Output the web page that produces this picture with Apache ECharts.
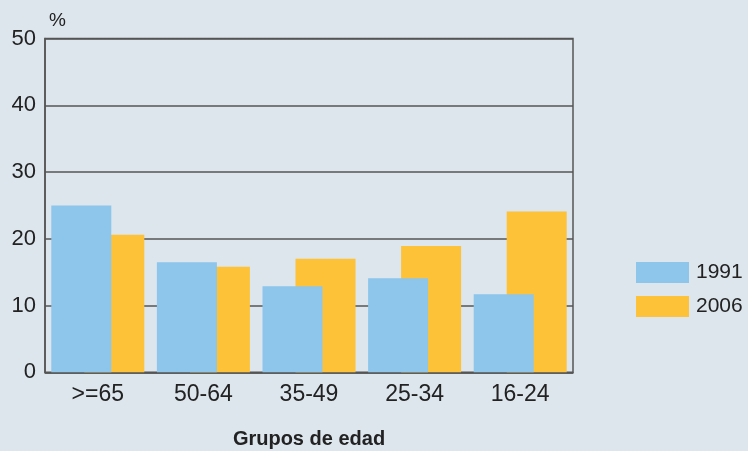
<!DOCTYPE html>
<html>
<head>
<meta charset="utf-8">
<script src="https://cdn.jsdelivr.net/npm/echarts@6/dist/echarts.min.js"></script>
<style>
  html, body { margin: 0; padding: 0; background: #dde5ed; }
  #plot { width: 748px; height: 451px; }
</style>
</head>
<body>
<div id="plot"></div>
<script>
// datos
let categorias = ['>=65', '50-64', '35-49', '25-34', '16-24'];
let serie1991 = [25.0, 16.5, 12.9, 14.1, 11.7];
let serie2006 = [20.6, 15.8, 17.0, 18.9, 24.1];
let ticksY = [0, 10, 20, 30, 40, 50];

let chart = echarts.init(document.getElementById('plot'));

let fuente = 'Liberation Sans, Arial, sans-serif';

let option = {
    backgroundColor: '#dde5ed',
    animation: false,
    grid: {
        left: 45, right: 175, top: 38.5, bottom: 78.7,
        outerBoundsMode: 'none',
        containLabel: false,
        show: true, borderColor: '#555', borderWidth: 1.5,
        backgroundColor: 'transparent'
    },
    legend: {
        orient: 'vertical',
        left: 631, top: 257,
        itemWidth: 53, itemHeight: 21, itemGap: 13,
        icon: 'rect',
        textStyle: { fontFamily: fuente, fontSize: 21, color: '#222', padding: [0, 0, 0, 2] },
        data: ['1991', '2006']
    },
    xAxis: {
        type: 'category',
        data: categorias,
        axisLine: { lineStyle: { color: '#555', width: 1.5 } },
        axisTick: { show: false },
        axisLabel: { fontFamily: fuente, fontSize: 23, color: '#222', margin: 11 },
        name: 'Grupos de edad',
        nameLocation: 'middle',
        nameGap: 57,
        nameTextStyle: { fontFamily: fuente, fontSize: 20, fontWeight: 'bold', color: '#222' }
    },
    yAxis: {
        type: 'value',
        min: ticksY[0], max: ticksY[ticksY.length - 1], interval: 10,
        axisLine: { show: true, lineStyle: { color: '#555', width: 1.5 } },
        axisTick: { show: false },
        splitLine: { lineStyle: { color: '#555', width: 1.5 } },
        axisLabel: { fontFamily: fuente, fontSize: 22, color: '#222', margin: 9 },
        name: '%',
        nameLocation: 'end',
        nameGap: 8,
        nameTextStyle: { fontFamily: fuente, fontSize: 19, color: '#222', align: 'left', padding: [0, 0, 0, 4] }
    },
    series: [
        {
            name: '1991', type: 'bar', data: serie1991,
            barWidth: 60, barGap: '-45%', z: 3,
            itemStyle: { color: '#8dc5eb' }
        },
        {
            name: '2006', type: 'bar', data: serie2006,
            barWidth: 60, barGap: '-45%', z: 2,
            itemStyle: { color: '#fdc238' }
        }
    ]
};

chart.setOption(option);
</script>
</body>
</html>
